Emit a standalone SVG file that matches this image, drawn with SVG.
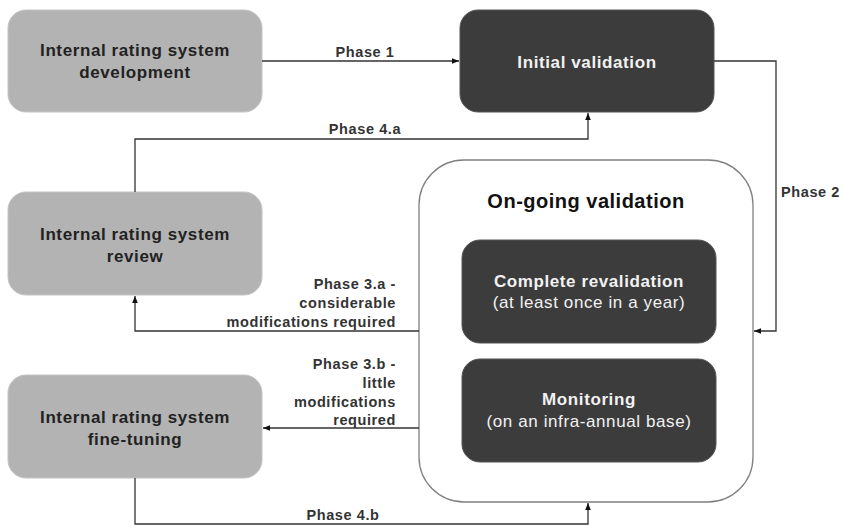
<svg xmlns="http://www.w3.org/2000/svg" width="843" height="527" viewBox="0 0 843 527">
<defs>
<marker id="ah" viewBox="0 0 10 10" refX="10" refY="5" markerWidth="7" markerHeight="7" orient="auto" markerUnits="userSpaceOnUse"><path d="M0,1 L10,5 L0,9 z" fill="#111"/></marker>
<style>
.light{fill:#b3b3b3;stroke:#c4c4c4;stroke-width:1}
.dark{fill:#3c3c3c;stroke:#555;stroke-width:1}
.cont{fill:#fff;stroke:#808080;stroke-width:1.3}
text{font-family:"Liberation Sans",Arial,sans-serif}
.nt{font-weight:bold;font-size:17px;letter-spacing:0.6px;fill:#222;text-anchor:middle}
.wt{font-weight:bold;font-size:17px;letter-spacing:0.6px;fill:#f2f2f2;text-anchor:middle}
.wn{font-size:17px;letter-spacing:0.6px;fill:#f2f2f2;text-anchor:middle}
.lb{font-weight:bold;font-size:14.5px;letter-spacing:0.6px;fill:#333}
.conn path{fill:none;stroke:#333;stroke-width:1.3;marker-end:url(#ah)}
</style>
</defs>
<g id="ongoing">
<rect class="cont" x="419" y="160" width="334" height="342" rx="45"/>
<text class="nt" x="586" y="208" style="font-size:20px;letter-spacing:0.5px;fill:#111">On-going validation</text>
</g>
<g id="dev">
<rect class="light" x="8" y="10" width="254" height="102" rx="18"/>
<text class="nt" x="135" y="56">Internal rating system</text>
<text class="nt" x="135" y="78">development</text>
</g>
<g id="initial">
<rect class="dark" x="460" y="10" width="254" height="102" rx="18"/>
<text class="wt" x="587" y="68">Initial validation</text>
</g>
<g id="review">
<rect class="light" x="8" y="192" width="254" height="103" rx="18"/>
<text class="nt" x="135" y="240">Internal rating system</text>
<text class="nt" x="135" y="262">review</text>
</g>
<g id="finetune">
<rect class="light" x="8" y="375" width="254" height="103" rx="18"/>
<text class="nt" x="135" y="423">Internal rating system</text>
<text class="nt" x="135" y="445">fine-tuning</text>
</g>
<g id="revalidation">
<rect class="dark" x="462" y="240" width="254" height="103" rx="18"/>
<text class="wt" x="589" y="287">Complete revalidation</text>
<text class="wn" x="589" y="308">(at least once in a year)</text>
</g>
<g id="monitoring">
<rect class="dark" x="462" y="359" width="254" height="103" rx="18"/>
<text class="wt" x="589" y="405">Monitoring</text>
<text class="wn" x="589" y="427">(on an infra-annual base)</text>
</g>
<g class="conn" id="connectors">
<path d="M262,61 H459"/>
<path d="M135,192 V139 H588 V113"/>
<path d="M714,61 H776 V331 H754"/>
<path d="M419,331 H135 V296"/>
<path d="M419,428 H263"/>
<path d="M135,478 V524 H588 V503"/>
</g>
<g id="labels">
<text class="lb" x="365" y="57" text-anchor="middle">Phase 1</text>
<text class="lb" x="365" y="134" text-anchor="middle">Phase 4.a</text>
<text class="lb" x="781" y="197">Phase 2</text>
<text class="lb" x="396" y="289" text-anchor="end">Phase 3.a -</text>
<text class="lb" x="396" y="308" text-anchor="end">considerable</text>
<text class="lb" x="396" y="327" text-anchor="end">modifications required</text>
<text class="lb" x="396" y="369" text-anchor="end">Phase 3.b -</text>
<text class="lb" x="396" y="388" text-anchor="end">little</text>
<text class="lb" x="396" y="407" text-anchor="end">modifications</text>
<text class="lb" x="396" y="425" text-anchor="end">required</text>
<text class="lb" x="343" y="520" text-anchor="middle">Phase 4.b</text>
</g>
</svg>
